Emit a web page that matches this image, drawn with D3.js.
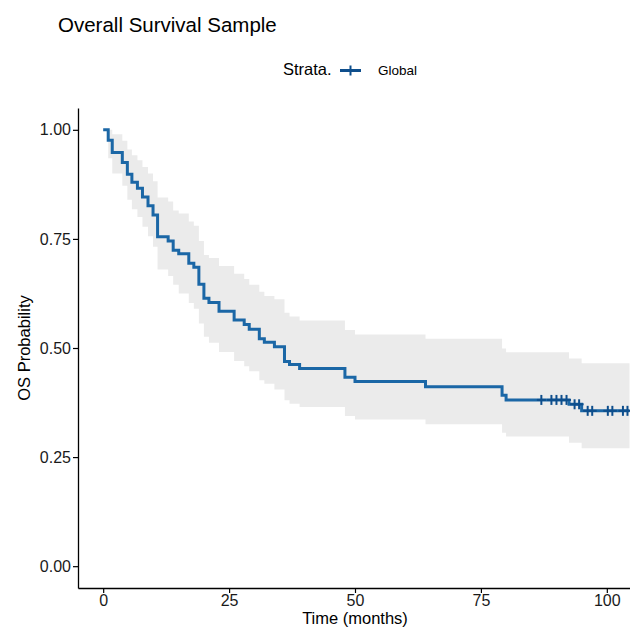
<!DOCTYPE html>
<html>
<head>
<meta charset="utf-8">
<script src="https://cdn.jsdelivr.net/npm/d3@7"></script>
<style>
  body { margin: 0; background: #fff; }
  text { font-family: "Liberation Sans", Arial, sans-serif; }
</style>
</head>
<body>
<div id="chart"></div>
<script>
const width = 630, height = 628;

// Kaplan-Meier steps: time (months), survival, and confidence band
const times = [0, 1.0, 1.8, 3.8, 4.8, 5.7, 6.8, 7.8, 8.9, 9.9, 10.8, 12.9, 13.9, 15.0, 17.0, 18.0,
    19.0, 20.0, 21.0, 23.0, 26.0, 28.0, 29.0, 31.0, 32.0, 34.0, 36.0, 37.0, 39.0, 48.0, 50.0,
    64.0, 79.2, 80.0, 92.5, 95.0, 104.5];
const surv = [1.000, 0.976, 0.948, 0.925, 0.898, 0.880, 0.866, 0.846, 0.826, 0.805, 0.755, 0.745,
    0.724, 0.716, 0.694, 0.685, 0.646, 0.614, 0.604, 0.584, 0.564, 0.554, 0.543, 0.521, 0.513,
    0.503, 0.469, 0.462, 0.453, 0.433, 0.423, 0.411, 0.392, 0.381, 0.371, 0.356, 0.356];
const upper = [1.000, 1.000, 0.990, 0.975, 0.955, 0.942, 0.930, 0.915, 0.900, 0.882, 0.845, 0.836,
    0.815, 0.808, 0.790, 0.780, 0.745, 0.713, 0.706, 0.688, 0.670, 0.658, 0.645, 0.629, 0.619,
    0.612, 0.581, 0.572, 0.563, 0.541, 0.531, 0.521, 0.499, 0.490, 0.476, 0.465, 0.465];
const lower = [1.000, 0.935, 0.900, 0.872, 0.840, 0.818, 0.800, 0.778, 0.756, 0.732, 0.680, 0.665,
    0.645, 0.625, 0.603, 0.590, 0.556, 0.526, 0.512, 0.491, 0.470, 0.458, 0.447, 0.426, 0.418,
    0.405, 0.380, 0.372, 0.365, 0.344, 0.336, 0.325, 0.306, 0.297, 0.283, 0.270, 0.270];

// censored observations
const censorTimes = [87.0, 89.0, 90.0, 91.0, 92.0, 93.6, 94.5, 96.2, 97.1, 100.2, 101.1, 103.2, 104.1];

const xTicks = [0, 25, 50, 75, 100];
const yTicks = [0, 0.25, 0.5, 0.75, 1];

const lineColor = "#1b67a6";
const censorColor = "#0e4e8c";

const data = times.map((t, i) => ({ t: t, s: surv[i], hi: upper[i], lo: lower[i] }));

let svg = d3.select("#chart")
    .append("svg")
    .attr("width", width)
    .attr("height", height);

let x = d3.scaleLinear()
    .domain([-5, 105])
    .range([78, 632]);

let y = d3.scaleLinear()
    .domain([-0.05, 1.05])
    .range([588, 108]);

// confidence band
svg.append("path")
    .datum(data)
    .attr("fill", "#ebebeb")
    .attr("d", d3.area()
        .curve(d3.curveStepAfter)
        .x(d => x(d.t))
        .y0(d => y(d.lo))
        .y1(d => y(d.hi)));

// survival curve
svg.append("path")
    .datum(data)
    .attr("fill", "none")
    .attr("stroke", lineColor)
    .attr("stroke-width", 3)
    .attr("d", d3.line()
        .curve(d3.curveStepAfter)
        .x(d => x(d.t))
        .y(d => y(d.s)));

// survival value at a censor time
function survAt(t) {
    let idx = d3.bisectRight(times, t) - 1;
    return surv[Math.max(0, idx)];
}

let cens = svg.append("g")
    .attr("stroke", censorColor)
    .attr("stroke-width", 2);

censorTimes.forEach(function(t) {
    let cx = x(t), cy = y(survAt(t));
    cens.append("line")
        .attr("x1", cx).attr("x2", cx)
        .attr("y1", cy - 5).attr("y2", cy + 5);
    cens.append("line")
        .attr("x1", cx - 4.5).attr("x2", cx + 4.5)
        .attr("y1", cy).attr("y2", cy);
});

// axes
let xAxis = svg.append("g")
    .attr("transform", "translate(0,588)")
    .call(d3.axisBottom(x).tickValues(xTicks).tickSize(5).tickPadding(2).tickSizeOuter(0));

let yAxis = svg.append("g")
    .attr("transform", "translate(78,0)")
    .call(d3.axisLeft(y).tickValues(yTicks).tickFormat(d3.format(".2f"))
        .tickSize(5).tickPadding(2).tickSizeOuter(0));

[xAxis, yAxis].forEach(function(a) {
    a.select(".domain").attr("stroke", "#000").attr("stroke-width", 1.3);
    a.selectAll(".tick line").attr("stroke", "#000").attr("stroke-width", 1.2);
    a.selectAll(".tick text")
        .attr("fill", "#1a1a1a")
        .style("font-family", "Liberation Sans, Arial, sans-serif")
        .style("font-size", "16px");
});

// axis titles
svg.append("text")
    .attr("x", 355)
    .attr("y", 624)
    .attr("text-anchor", "middle")
    .style("font-size", "16.5px")
    .attr("fill", "#000")
    .text("Time (months)");

svg.append("text")
    .attr("transform", "translate(30,348)rotate(-90)")
    .attr("text-anchor", "middle")
    .style("font-size", "16.5px")
    .attr("fill", "#000")
    .text("OS Probability");

// title
svg.append("text")
    .attr("x", 58)
    .attr("y", 32)
    .style("font-size", "20.5px")
    .attr("fill", "#000")
    .text("Overall Survival Sample");

// legend
let legend = svg.append("g");

legend.append("text")
    .attr("x", 283)
    .attr("y", 75)
    .style("font-size", "16.5px")
    .attr("fill", "#000")
    .text("Strata.");

legend.append("line")
    .attr("x1", 340).attr("x2", 361)
    .attr("y1", 70.5).attr("y2", 70.5)
    .attr("stroke", censorColor)
    .attr("stroke-width", 3);

legend.append("line")
    .attr("x1", 350.5).attr("x2", 350.5)
    .attr("y1", 65.5).attr("y2", 75.5)
    .attr("stroke", censorColor)
    .attr("stroke-width", 2);

legend.append("text")
    .attr("x", 378)
    .attr("y", 75)
    .style("font-size", "13.5px")
    .attr("fill", "#000")
    .text("Global");
</script>
</body>
</html>
